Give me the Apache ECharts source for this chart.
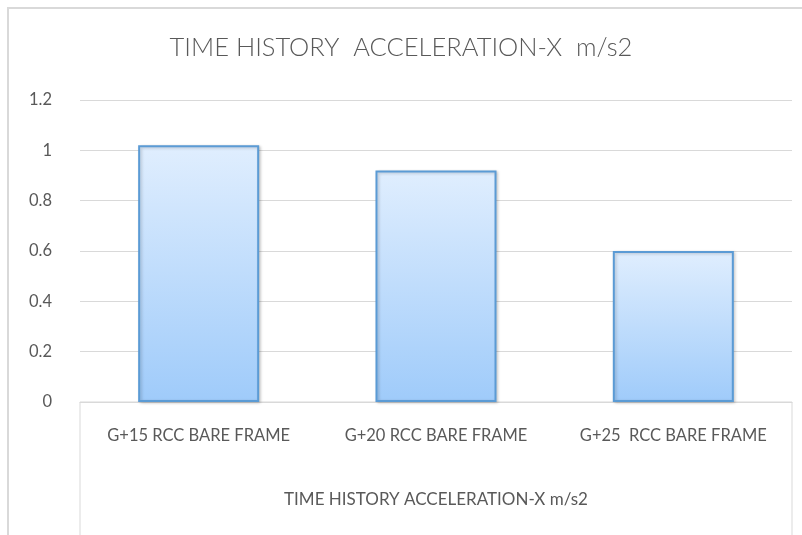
<!DOCTYPE html>
<html>
<head>
<meta charset="utf-8">
<script src="https://cdn.jsdelivr.net/npm/echarts@6/dist/echarts.min.js"></script>
<style>html,body{margin:0;padding:0;background:#fff}#c{width:802px;height:535px}</style>
</head>
<body>
<div id="c"></div>
<script>
const titleText = 'TIME HISTORY  ACCELERATION-X  m/s2';
const categories = ['G+15 RCC BARE FRAME', 'G+20 RCC BARE FRAME', 'G+25  RCC BARE FRAME'];
const values = [1.02, 0.92, 0.60];
const groupLabels = ['TIME HISTORY ACCELERATION-X m/s2'];
const yTicks = [0, 0.2, 0.4, 0.6, 0.8, 1, 1.2];

const FONT = 'Lato, "Open Sans", sans-serif';
const chart = echarts.init(document.getElementById('c'));
const gridL = 80, gridR = 10, gridT = 100, gridB = 133;
chart.setOption({
  animation: false,
  title: {
    text: titleText, left: 'center', top: 30,
    textStyle: {fontFamily: FONT, fontWeight: 300, fontSize: 25.5, color: '#595959'}
  },
  graphic: [
    {type: 'rect', shape: {x: 8, y: 8, width: 1000, height: 1000}, style: {fill: 'none', stroke: '#d9d9d9', lineWidth: 2}, silent: true},
    {type: 'rect', shape: {x: gridL, y: 535 - gridB, width: 802 - gridL - gridR, height: 140}, style: {fill: 'none', stroke: '#d9d9d9', lineWidth: 1}, silent: true}
  ],
  grid: {left: gridL, right: gridR, top: gridT, bottom: gridB},
  xAxis: [
    {
      type: 'category', data: categories,
      axisLine: {lineStyle: {color: '#d9d9d9'}},
      axisTick: {show: false},
      axisLabel: {interval: 0, hideOverlap: false, margin: 25, fontFamily: FONT, fontSize: 16.5, color: '#595959'}
    },
    {
      type: 'category', data: groupLabels, position: 'bottom',
      axisLine: {show: false}, axisTick: {show: false},
      axisLabel: {interval: 0, margin: 89, fontFamily: FONT, fontSize: 17, color: '#595959'}
    }
  ],
  yAxis: {
    type: 'value', min: yTicks[0], max: yTicks[yTicks.length - 1], interval: 0.2,
    axisLine: {show: false}, axisTick: {show: false},
    splitLine: {lineStyle: {color: '#d9d9d9', width: 1}},
    axisLabel: {margin: 28, fontFamily: FONT, fontSize: 16.5, color: '#595959',
      formatter: v => String(Math.round(v * 10) / 10)}
  },
  series: [{
    type: 'bar', data: values, barWidth: '51%', xAxisIndex: 0,
    itemStyle: {
      color: new echarts.graphic.LinearGradient(0, 0, 0, 1, [
        {offset: 0, color: '#e0eefe'},
        {offset: 1, color: '#9fcbfa'}
      ]),
      borderColor: '#5b9bd5', borderWidth: 2,
      shadowColor: 'rgba(0,0,0,0.2)', shadowBlur: 3, shadowOffsetX: 1.5, shadowOffsetY: 1
    }
  }]
});
</script>
</body>
</html>
